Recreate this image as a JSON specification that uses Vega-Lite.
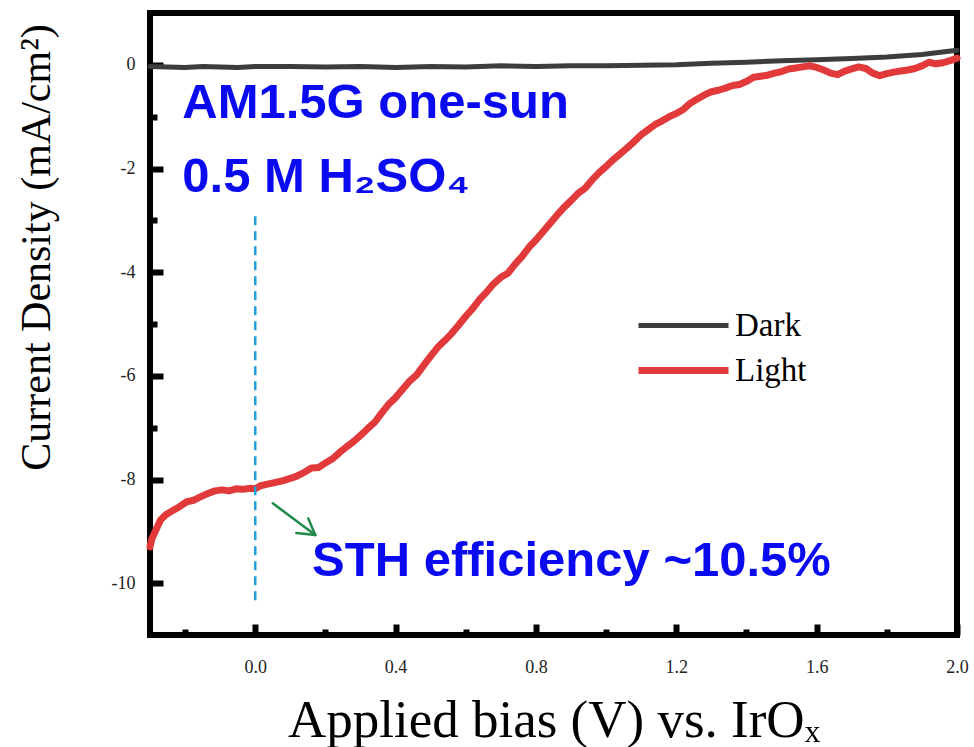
{
  "$schema": "https://vega.github.io/schema/vega-lite/v6.json",
  "width": 807,
  "height": 622,
  "autosize": "none",
  "padding": {"left": 150, "top": 13, "right": 17, "bottom": 112},
  "background": "white",
  "config": {
    "view": {"stroke": "black", "strokeWidth": 6},
    "font": "Liberation Serif"
  },
  "datasets": {
    "curves": [
      {"x": -0.30, "y": -0.03, "s": "Dark"},
      {"x": -0.25, "y": -0.04, "s": "Dark"},
      {"x": -0.20, "y": -0.05, "s": "Dark"},
      {"x": -0.15, "y": -0.03, "s": "Dark"},
      {"x": -0.10, "y": -0.04, "s": "Dark"},
      {"x": -0.05, "y": -0.05, "s": "Dark"},
      {"x": 0.00, "y": -0.03, "s": "Dark"},
      {"x": 0.10, "y": -0.03, "s": "Dark"},
      {"x": 0.20, "y": -0.04, "s": "Dark"},
      {"x": 0.30, "y": -0.03, "s": "Dark"},
      {"x": 0.40, "y": -0.05, "s": "Dark"},
      {"x": 0.50, "y": -0.03, "s": "Dark"},
      {"x": 0.60, "y": -0.04, "s": "Dark"},
      {"x": 0.70, "y": -0.02, "s": "Dark"},
      {"x": 0.80, "y": -0.03, "s": "Dark"},
      {"x": 0.90, "y": -0.02, "s": "Dark"},
      {"x": 1.00, "y": -0.02, "s": "Dark"},
      {"x": 1.10, "y": -0.01, "s": "Dark"},
      {"x": 1.20, "y": 0.00, "s": "Dark"},
      {"x": 1.30, "y": 0.03, "s": "Dark"},
      {"x": 1.40, "y": 0.05, "s": "Dark"},
      {"x": 1.50, "y": 0.08, "s": "Dark"},
      {"x": 1.60, "y": 0.10, "s": "Dark"},
      {"x": 1.70, "y": 0.12, "s": "Dark"},
      {"x": 1.80, "y": 0.15, "s": "Dark"},
      {"x": 1.90, "y": 0.20, "s": "Dark"},
      {"x": 2.00, "y": 0.28, "s": "Dark"},
      {"x": -0.300, "y": -9.30, "s": "Light"},
      {"x": -0.295, "y": -9.15, "s": "Light"},
      {"x": -0.285, "y": -9.00, "s": "Light"},
      {"x": -0.270, "y": -8.78, "s": "Light"},
      {"x": -0.255, "y": -8.68, "s": "Light"},
      {"x": -0.235, "y": -8.60, "s": "Light"},
      {"x": -0.215, "y": -8.52, "s": "Light"},
      {"x": -0.195, "y": -8.43, "s": "Light"},
      {"x": -0.175, "y": -8.40, "s": "Light"},
      {"x": -0.155, "y": -8.33, "s": "Light"},
      {"x": -0.135, "y": -8.27, "s": "Light"},
      {"x": -0.115, "y": -8.22, "s": "Light"},
      {"x": -0.095, "y": -8.20, "s": "Light"},
      {"x": -0.075, "y": -8.22, "s": "Light"},
      {"x": -0.055, "y": -8.18, "s": "Light"},
      {"x": -0.035, "y": -8.19, "s": "Light"},
      {"x": -0.015, "y": -8.17, "s": "Light"},
      {"x": 0.000, "y": -8.18, "s": "Light"},
      {"x": 0.015, "y": -8.12, "s": "Light"},
      {"x": 0.035, "y": -8.09, "s": "Light"},
      {"x": 0.055, "y": -8.06, "s": "Light"},
      {"x": 0.080, "y": -8.02, "s": "Light"},
      {"x": 0.100, "y": -7.98, "s": "Light"},
      {"x": 0.120, "y": -7.93, "s": "Light"},
      {"x": 0.140, "y": -7.86, "s": "Light"},
      {"x": 0.160, "y": -7.78, "s": "Light"},
      {"x": 0.180, "y": -7.77, "s": "Light"},
      {"x": 0.200, "y": -7.68, "s": "Light"},
      {"x": 0.220, "y": -7.60, "s": "Light"},
      {"x": 0.240, "y": -7.48, "s": "Light"},
      {"x": 0.260, "y": -7.37, "s": "Light"},
      {"x": 0.280, "y": -7.27, "s": "Light"},
      {"x": 0.300, "y": -7.15, "s": "Light"},
      {"x": 0.320, "y": -7.02, "s": "Light"},
      {"x": 0.340, "y": -6.90, "s": "Light"},
      {"x": 0.360, "y": -6.72, "s": "Light"},
      {"x": 0.380, "y": -6.55, "s": "Light"},
      {"x": 0.400, "y": -6.42, "s": "Light"},
      {"x": 0.420, "y": -6.26, "s": "Light"},
      {"x": 0.440, "y": -6.10, "s": "Light"},
      {"x": 0.460, "y": -5.98, "s": "Light"},
      {"x": 0.480, "y": -5.80, "s": "Light"},
      {"x": 0.500, "y": -5.62, "s": "Light"},
      {"x": 0.520, "y": -5.45, "s": "Light"},
      {"x": 0.540, "y": -5.32, "s": "Light"},
      {"x": 0.560, "y": -5.18, "s": "Light"},
      {"x": 0.580, "y": -5.02, "s": "Light"},
      {"x": 0.600, "y": -4.85, "s": "Light"},
      {"x": 0.620, "y": -4.70, "s": "Light"},
      {"x": 0.640, "y": -4.52, "s": "Light"},
      {"x": 0.660, "y": -4.38, "s": "Light"},
      {"x": 0.680, "y": -4.22, "s": "Light"},
      {"x": 0.700, "y": -4.10, "s": "Light"},
      {"x": 0.720, "y": -4.02, "s": "Light"},
      {"x": 0.740, "y": -3.85, "s": "Light"},
      {"x": 0.760, "y": -3.70, "s": "Light"},
      {"x": 0.780, "y": -3.52, "s": "Light"},
      {"x": 0.800, "y": -3.38, "s": "Light"},
      {"x": 0.820, "y": -3.22, "s": "Light"},
      {"x": 0.840, "y": -3.06, "s": "Light"},
      {"x": 0.860, "y": -2.90, "s": "Light"},
      {"x": 0.880, "y": -2.75, "s": "Light"},
      {"x": 0.900, "y": -2.62, "s": "Light"},
      {"x": 0.920, "y": -2.48, "s": "Light"},
      {"x": 0.940, "y": -2.38, "s": "Light"},
      {"x": 0.960, "y": -2.22, "s": "Light"},
      {"x": 0.980, "y": -2.08, "s": "Light"},
      {"x": 1.000, "y": -1.96, "s": "Light"},
      {"x": 1.020, "y": -1.83, "s": "Light"},
      {"x": 1.040, "y": -1.72, "s": "Light"},
      {"x": 1.060, "y": -1.60, "s": "Light"},
      {"x": 1.080, "y": -1.48, "s": "Light"},
      {"x": 1.100, "y": -1.35, "s": "Light"},
      {"x": 1.120, "y": -1.25, "s": "Light"},
      {"x": 1.140, "y": -1.15, "s": "Light"},
      {"x": 1.160, "y": -1.08, "s": "Light"},
      {"x": 1.180, "y": -1.00, "s": "Light"},
      {"x": 1.200, "y": -0.94, "s": "Light"},
      {"x": 1.220, "y": -0.86, "s": "Light"},
      {"x": 1.240, "y": -0.74, "s": "Light"},
      {"x": 1.260, "y": -0.66, "s": "Light"},
      {"x": 1.280, "y": -0.58, "s": "Light"},
      {"x": 1.300, "y": -0.52, "s": "Light"},
      {"x": 1.320, "y": -0.49, "s": "Light"},
      {"x": 1.340, "y": -0.45, "s": "Light"},
      {"x": 1.360, "y": -0.40, "s": "Light"},
      {"x": 1.380, "y": -0.38, "s": "Light"},
      {"x": 1.400, "y": -0.32, "s": "Light"},
      {"x": 1.420, "y": -0.24, "s": "Light"},
      {"x": 1.440, "y": -0.22, "s": "Light"},
      {"x": 1.460, "y": -0.20, "s": "Light"},
      {"x": 1.480, "y": -0.16, "s": "Light"},
      {"x": 1.500, "y": -0.13, "s": "Light"},
      {"x": 1.520, "y": -0.08, "s": "Light"},
      {"x": 1.540, "y": -0.06, "s": "Light"},
      {"x": 1.560, "y": -0.04, "s": "Light"},
      {"x": 1.580, "y": -0.02, "s": "Light"},
      {"x": 1.600, "y": -0.05, "s": "Light"},
      {"x": 1.620, "y": -0.10, "s": "Light"},
      {"x": 1.640, "y": -0.16, "s": "Light"},
      {"x": 1.660, "y": -0.19, "s": "Light"},
      {"x": 1.680, "y": -0.12, "s": "Light"},
      {"x": 1.700, "y": -0.08, "s": "Light"},
      {"x": 1.720, "y": -0.04, "s": "Light"},
      {"x": 1.740, "y": -0.07, "s": "Light"},
      {"x": 1.760, "y": -0.16, "s": "Light"},
      {"x": 1.780, "y": -0.21, "s": "Light"},
      {"x": 1.800, "y": -0.17, "s": "Light"},
      {"x": 1.820, "y": -0.14, "s": "Light"},
      {"x": 1.840, "y": -0.12, "s": "Light"},
      {"x": 1.860, "y": -0.10, "s": "Light"},
      {"x": 1.880, "y": -0.07, "s": "Light"},
      {"x": 1.900, "y": -0.02, "s": "Light"},
      {"x": 1.920, "y": 0.05, "s": "Light"},
      {"x": 1.940, "y": 0.02, "s": "Light"},
      {"x": 1.960, "y": 0.04, "s": "Light"},
      {"x": 1.980, "y": 0.08, "s": "Light"},
      {"x": 2.000, "y": 0.13, "s": "Light"}
    ],
    "dash": [{"x": 0.0, "y": -2.92, "y2": -10.33}],
    "arrow": [
      {"x": 0.050, "y": -8.46, "x2": 0.171, "y2": -9.07},
      {"x": 0.171, "y": -9.07, "x2": 0.117, "y2": -9.03},
      {"x": 0.171, "y": -9.07, "x2": 0.151, "y2": -8.75}
    ],
    "notes": [
      {"x": -0.208, "y": -1.02, "label": "AM1.5G one-sun"},
      {"x": -0.208, "y": -2.45, "label": "0.5 M H₂SO₄"},
      {"x": 0.162, "y": -9.86, "label": "STH efficiency ~10.5%"}
    ]
  },
  "layer": [
    {
      "data": {"name": "curves"},
      "mark": {"type": "line", "strokeCap": "round", "strokeJoin": "round"},
      "encoding": {
        "x": {
          "field": "x", "type": "quantitative",
          "scale": {"domain": [-0.3, 2.0], "nice": false, "zero": false},
          "axis": {
            "title": "Applied bias (V) vs. IrOₓ",
            "values": [-0.2, 0, 0.2, 0.4, 0.6, 0.8, 1.0, 1.2, 1.4, 1.6, 1.8, 2.0],
            "labelExpr": "indexof([0, 0.4, 0.8, 1.2, 1.6, 2], datum.value) >= 0 ? format(datum.value, '.1f') : ''",
            "tickSize": {"condition": {"test": "indexof([0, 0.4, 0.8, 1.2, 1.6, 2], datum.value) >= 0", "value": -11}, "value": -6},
            "tickWidth": 6,
            "tickColor": "black",
            "domain": false,
            "grid": false,
            "labelFont": "Liberation Serif",
            "labelFontSize": 18,
            "labelColor": "#222",
            "labelPadding": 34,
            "labelFlush": false,
            "labelOverlap": false,
            "titleFont": "Liberation Serif",
            "titleFontSize": 53,
            "titleFontWeight": "normal",
            "titleColor": "black",
            "titleBaseline": "alphabetic",
            "titleY": 101
          }
        },
        "y": {
          "field": "y", "type": "quantitative",
          "scale": {"domain": [-11, 1], "nice": false, "zero": false},
          "axis": {
            "title": "Current Density (mA/cm²)",
            "values": [-10, -9, -8, -7, -6, -5, -4, -3, -2, -1, 0],
            "labelExpr": "datum.value % 2 === 0 ? '' + datum.value : ''",
            "tickSize": {"condition": {"test": "datum.value % 2 === 0", "value": -13}, "value": -7},
            "tickWidth": 6,
            "tickColor": "black",
            "domain": false,
            "grid": false,
            "labelFont": "Liberation Serif",
            "labelFontSize": 18,
            "labelColor": "#222",
            "labelPadding": 28,
            "labelFlush": false,
            "labelOverlap": false,
            "titleFont": "Liberation Serif",
            "titleFontSize": 42,
            "titleFontWeight": "normal",
            "titleColor": "black",
            "titleBaseline": "middle",
            "titleX": -114,
            "titleY": 234
          }
        },
        "color": {
          "field": "s", "type": "nominal",
          "scale": {"domain": ["Dark", "Light"], "range": ["#3d3d3d", "#e23a3a"]},
          "legend": {
            "title": null,
            "orient": "none",
            "legendX": 515,
            "legendY": 295,
            "symbolType": "M-3,0H3",
            "symbolSize": 900,
            "symbolStrokeWidth": 6,
            "labelFont": "Liberation Serif",
            "labelFontSize": 33,
            "labelColor": "black",
            "labelOffset": 33,
            "rowPadding": 9
          }
        },
        "strokeWidth": {
          "field": "s", "type": "nominal",
          "scale": {"domain": ["Dark", "Light"], "range": [5, 7]},
          "legend": null
        }
      }
    },
    {
      "data": {"name": "dash"},
      "mark": {"type": "rule", "color": "#229fdc", "strokeWidth": 2.5, "strokeDash": [9, 6]},
      "encoding": {
        "x": {"field": "x", "type": "quantitative"},
        "y": {"field": "y", "type": "quantitative"},
        "y2": {"field": "y2"}
      }
    },
    {
      "data": {"name": "arrow"},
      "mark": {"type": "rule", "color": "#1f8a4a", "strokeWidth": 2.5, "strokeCap": "round"},
      "encoding": {
        "x": {"field": "x", "type": "quantitative"},
        "y": {"field": "y", "type": "quantitative"},
        "x2": {"field": "x2"},
        "y2": {"field": "y2"}
      }
    },
    {
      "data": {"name": "notes"},
      "mark": {"type": "text", "align": "left", "baseline": "alphabetic", "font": "Liberation Sans", "fontWeight": "bold", "fontSize": 49, "color": "#0a0af0"},
      "encoding": {
        "x": {"field": "x", "type": "quantitative"},
        "y": {"field": "y", "type": "quantitative"},
        "text": {"field": "label"}
      }
    }
  ]
}
